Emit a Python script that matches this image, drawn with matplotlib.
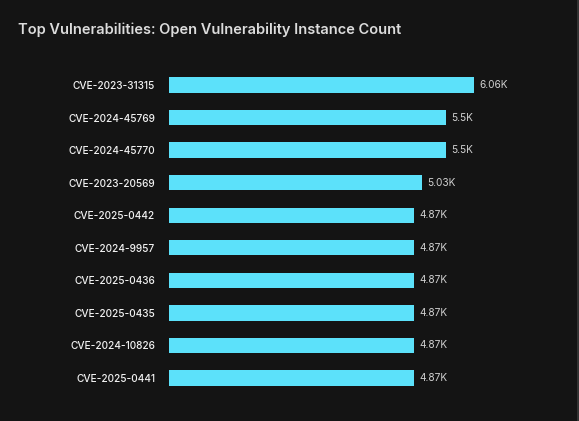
import matplotlib.pyplot as plt
from matplotlib.lines import Line2D

cves = ["CVE-2023-31315", "CVE-2024-45769", "CVE-2024-45770", "CVE-2023-20569",
        "CVE-2025-0442", "CVE-2024-9957", "CVE-2025-0436", "CVE-2025-0435",
        "CVE-2024-10826", "CVE-2025-0441"]
counts = [6060, 5500, 5500, 5030, 4870, 4870, 4870, 4870, 4870, 4870]
value_labels = ["6.06K", "5.5K", "5.5K", "5.03K", "4.87K", "4.87K",
                "4.87K", "4.87K", "4.87K", "4.87K"]

bg = "#141414"
plt.rcParams['font.family'] = ['Inter', 'DejaVu Sans']

fig = plt.figure(figsize=(5.79, 4.21), dpi=100, facecolor=bg)
W, H = 579, 421
ax = fig.add_axes([169 / W, 1 - 394.3 / H, 352 / W, (394.3 - 68.7) / H])
ax.set_facecolor(bg)

y = list(range(len(cves)))
ax.barh(y, counts, height=0.47, color="#5ce1fa")
ax.set_xlim(0, 7000)
ax.set_ylim(len(cves) - 0.5, -0.5)
ax.set_yticks(y)
ax.set_yticklabels(cves, fontsize=7.3, color="#f2f2f2", fontweight="medium")
ax.tick_params(axis="y", length=0, pad=10)
ax.set_xticks([])
for s in ax.spines.values():
    s.set_visible(False)

for yi, c, lab in zip(y, counts, value_labels):
    ax.text(c + 110, yi, lab, va="center", ha="left", fontsize=7.3, color="#d0d0d0")

fig.text(18 / W, 1 - 30 / H, "Top Vulnerabilities: Open Vulnerability Instance Count",
         fontsize=10.5, fontweight="semibold", color="#dcdcdc", va="center", ha="left")
fig.add_artist(Line2D([577.5 / W, 577.5 / W], [0, 1], color="#3a3a3a", lw=1.2))

fig.savefig("out.png", dpi=100, facecolor=bg)
